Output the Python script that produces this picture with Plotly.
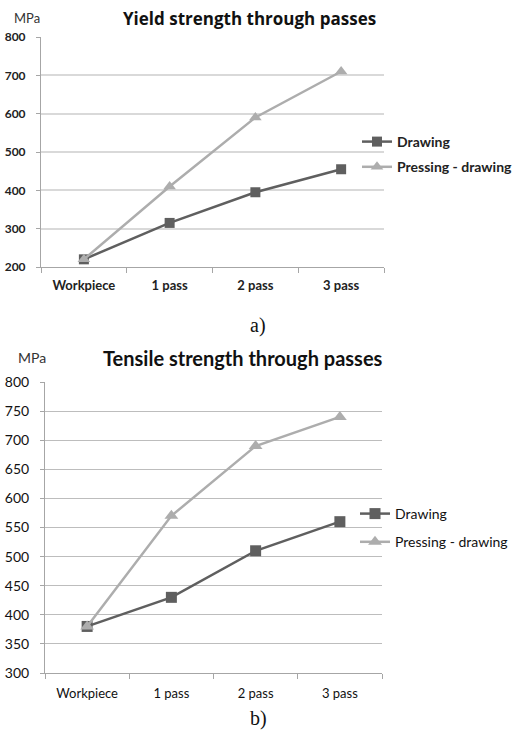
import plotly.graph_objects as go

categories = ["Workpiece", "1 pass", "2 pass", "3 pass"]
yield_drawing = [220, 315, 395, 455]
yield_pressing = [220, 410, 590, 710]
tensile_drawing = [380, 430, 510, 560]
tensile_pressing = [380, 570, 690, 740]
series_names = ["Drawing", "Pressing - drawing"]

W, H = 512, 737
def px(x): return x / W
def py(y): return 1 - y / H

DARK = "#5f5f5f"
LIGHT = "#adadad"
FONT = "Lato"

fig = go.Figure()

# top chart
fig.add_trace(go.Scatter(x=categories, y=yield_drawing, name=series_names[0],
                         mode="lines+markers", xaxis="x", yaxis="y", legend="legend",
                         legendgroup="a1",
                         line=dict(color=DARK, width=2.5),
                         marker=dict(symbol="square", size=10, color=DARK)))
fig.add_trace(go.Scatter(x=categories, y=yield_pressing, name=series_names[1],
                         mode="lines+markers", xaxis="x", yaxis="y", legend="legend",
                         legendgroup="a2",
                         line=dict(color=LIGHT, width=2.5),
                         marker=dict(symbol="triangle-up", size=11, color=LIGHT)))
# bottom chart
fig.add_trace(go.Scatter(x=categories, y=tensile_drawing, name=series_names[0],
                         mode="lines+markers", xaxis="x2", yaxis="y2", legend="legend2",
                         legendgroup="b1",
                         line=dict(color=DARK, width=2.5),
                         marker=dict(symbol="square", size=11, color=DARK)))
fig.add_trace(go.Scatter(x=categories, y=tensile_pressing, name=series_names[1],
                         mode="lines+markers", xaxis="x2", yaxis="y2", legend="legend2",
                         legendgroup="b2",
                         line=dict(color=LIGHT, width=2.5),
                         marker=dict(symbol="triangle-up", size=12, color=LIGHT)))

xcommon = dict(type="category", range=[-0.5, 3.5], showgrid=False, showline=True,
               linecolor="#a6a6a6", linewidth=1, ticks="outside", tickson="boundaries",
               ticklen=5, tickcolor="#a6a6a6", fixedrange=True, automargin=False)
ycommon = dict(showline=True, linecolor="#a6a6a6", linewidth=1, ticks="outside",
               ticklen=4, tickcolor="#a6a6a6", fixedrange=True, zeroline=False,
               automargin=False)

fig.update_layout(
    width=W, height=H, margin=dict(l=0, r=0, t=0, b=0, autoexpand=False),
    paper_bgcolor="white", plot_bgcolor="white",
    font=dict(family=FONT, color="#222222"),
    xaxis=dict(**xcommon, domain=[px(41), px(384)], anchor="y", ticklabelstandoff=6,
               tickfont=dict(family=FONT, size=13, color="#222222", weight="bold")),
    yaxis=dict(**ycommon, domain=[py(267), py(37)], anchor="x", range=[200, 800],
               dtick=100, gridcolor="#d9d9d9", gridwidth=2, ticklabelstandoff=8,
               tickfont=dict(family=FONT, size=12, color="#222222", weight="bold")),
    xaxis2=dict(**xcommon, domain=[px(45), px(382)], anchor="y2", ticklabelstandoff=8,
                tickfont=dict(family=FONT, size=13, color="#111111")),
    yaxis2=dict(**ycommon, domain=[py(673), py(382)], anchor="x2", range=[300, 800],
                dtick=50, gridcolor="#bdbdbd", gridwidth=1, ticklabelstandoff=8,
                tickfont=dict(family=FONT, size=14, color="#111111")),
    legend=dict(x=px(357), y=py(126), xanchor="left", yanchor="top",
                bgcolor="rgba(0,0,0,0)", tracegroupgap=4,
                font=dict(family=FONT, size=14, color="#222222", weight="bold")),
    legend2=dict(x=px(355), y=py(498), xanchor="left", yanchor="top",
                 bgcolor="rgba(0,0,0,0)", tracegroupgap=7,
                 font=dict(family=FONT, size=14, color="#111111")),
    annotations=[
        dict(text="Yield strength through passes", x=px(249), y=py(18), xref="paper", yref="paper",
             showarrow=False, xanchor="center", yanchor="middle",
             font=dict(family="Open Sans", size=17, color="#111111", weight="bold")),
        dict(text="MPa", x=px(27), y=py(18), xref="paper", yref="paper",
             showarrow=False, xanchor="center", yanchor="middle",
             font=dict(family=FONT, size=13, color="#333333")),
        dict(text="a)", x=px(258), y=py(325), xref="paper", yref="paper",
             showarrow=False, xanchor="center", yanchor="middle",
             font=dict(family="Liberation Serif", size=20, color="#111111")),
        dict(text="Tensile strength through passes", x=px(243), y=py(358), xref="paper", yref="paper",
             showarrow=False, xanchor="center", yanchor="middle",
             font=dict(family=FONT, size=20, color="#111111", weight="bold")),
        dict(text="MPa", x=px(32), y=py(357), xref="paper", yref="paper",
             showarrow=False, xanchor="center", yanchor="middle",
             font=dict(family=FONT, size=14, color="#333333")),
        dict(text="b)", x=px(258), y=py(718), xref="paper", yref="paper",
             showarrow=False, xanchor="center", yanchor="middle",
             font=dict(family="Liberation Serif", size=20, color="#111111")),
    ],
)

fig.write_html("out.html", config={"displayModeBar": False},
               post_script="document.body.style.margin='0';document.body.style.overflow='hidden';")
